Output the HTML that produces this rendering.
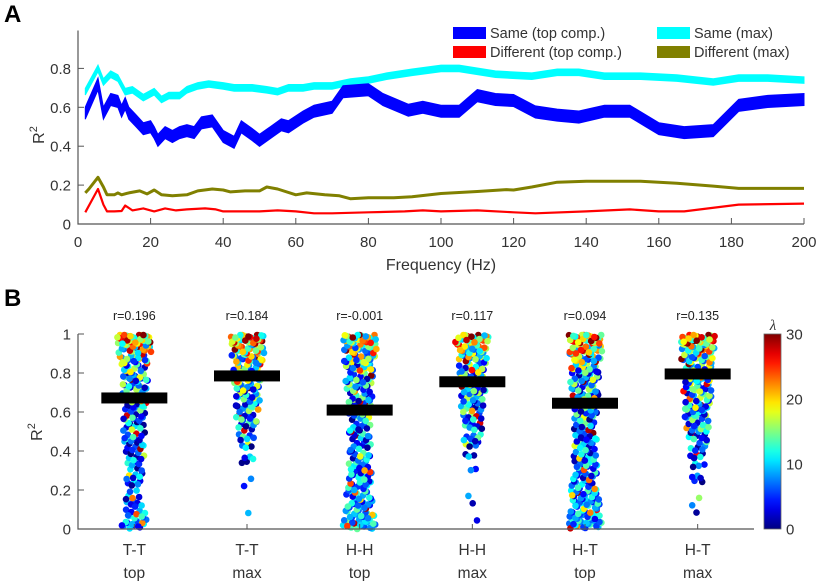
<!DOCTYPE html>
<html><head><meta charset="utf-8"><style>
html,body{margin:0;padding:0;background:#fff}
svg{display:block;font-family:"Liberation Sans","DejaVu Sans",sans-serif}
</style></head><body>
<svg id="fig" width="820" height="581" viewBox="0 0 820 581">
<text x="4" y="22" font-size="24" font-weight="bold" fill="#000">A</text>
<text x="4" y="306" font-size="24" font-weight="bold" fill="#000">B</text>
<g id="pa"></g>
<g id="pb"></g>
</svg>
<script>
// ---------- Panel A data ----------
const xTicksA = [0,20,40,60,80,100,120,140,160,180,200];
const yTicksA = [0,0.2,0.4,0.6,0.8];
const blueF = [2,5.5,7,9,11,12,13,14,16,18,20,21,22,24,26,28,30,32,34,37,40,43,45,48,50,53,56,58,62,65,70,73,80,84,91,95,100,105,110,115,120,126,132,138,145,152,160,167,175,182,190,200];
const blueV = [0.57,0.72,0.57,0.64,0.63,0.58,0.62,0.57,0.53,0.49,0.50,0.47,0.43,0.47,0.45,0.47,0.48,0.47,0.52,0.53,0.45,0.42,0.50,0.46,0.43,0.47,0.51,0.50,0.55,0.58,0.60,0.68,0.69,0.64,0.585,0.60,0.58,0.58,0.66,0.64,0.635,0.576,0.56,0.55,0.58,0.58,0.49,0.47,0.48,0.61,0.63,0.64];
const cyanF = [2,5.5,7,9,11,13,15,18,21,23,25,28,30,33,36,40,43,48,52,55,58,62,65,70,75,80,85,92,100,105,115,125,132,138,145,155,165,175,182,190,200];
const cyanV = [0.68,0.80,0.73,0.77,0.75,0.68,0.69,0.65,0.68,0.64,0.66,0.66,0.69,0.71,0.72,0.71,0.70,0.70,0.69,0.68,0.70,0.70,0.71,0.71,0.73,0.74,0.76,0.78,0.80,0.80,0.77,0.76,0.78,0.78,0.76,0.76,0.75,0.73,0.75,0.75,0.74];
const oliveF = [2,3,5.5,7,8,10,11,12,14,17,19,21,23,26,30,33,37,40,42,46,50,52,55,60,63,68,72,75,80,87,92,100,110,118,120,125,132,140,155,165,175,182,200];
const oliveV = [0.16,0.18,0.24,0.19,0.15,0.15,0.16,0.15,0.16,0.17,0.155,0.175,0.15,0.145,0.15,0.17,0.18,0.175,0.165,0.17,0.17,0.19,0.18,0.15,0.16,0.15,0.145,0.13,0.135,0.135,0.14,0.157,0.167,0.177,0.175,0.19,0.215,0.22,0.22,0.21,0.195,0.183,0.183];
const redF = [2,5.5,7,8,10,12,13,15,18,21,24,27,30,35,38,40,45,50,55,60,65,70,80,90,95,100,110,120,126,140,152,160,167,182,200];
const redV = [0.06,0.18,0.10,0.065,0.065,0.067,0.095,0.07,0.08,0.065,0.08,0.07,0.075,0.08,0.075,0.065,0.065,0.065,0.07,0.065,0.055,0.055,0.06,0.065,0.07,0.065,0.07,0.06,0.055,0.065,0.075,0.065,0.065,0.10,0.105];

// ---------- Panel B data ----------
const groupTop = ["T-T","T-T","H-H","H-H","H-T","H-T"];
const groupBot = ["top","max","top","max","top","max"];
const rVals = ["r=0.196","r=0.184","r=-0.001","r=0.117","r=0.094","r=0.135"];
const means = [0.672,0.785,0.61,0.755,0.645,0.795];
const yTicksB = [0,0.2,0.4,0.6,0.8,1];
const cbTicks = [0,10,20,30];
// point counts per R² bin (0-0.05 ... 0.95-1.0)
const cntTTtop = [14,10,6,6,5,6,7,8,9,10,10,11,12,12,13,14,14,16,20,30];
const cntTTmax = [0,1,0,0,1,1,2,3,4,6,8,10,12,13,14,15,16,18,22,30];
const cntHHtop = [20,16,14,14,12,12,10,10,10,10,10,10,12,13,14,15,16,18,20,28];
const cntHHmax = [1,0,1,1,0,0,2,3,5,7,8,9,11,12,13,14,14,16,18,24];
const cntHTtop = [22,18,16,16,14,13,12,11,11,11,11,12,13,14,15,16,16,18,22,30];
const cntHTmax = [0,1,1,1,2,3,4,5,7,9,11,13,14,15,16,16,17,19,22,30];
// typical λ per bin
const lamTTtop = [7,8,7,6,5,6,6,6,6,6,6,7,7,8,8,9,10,12,16,20];
const lamTTmax = [4,4,5,5,5,5,5,6,6,7,7,8,8,9,9,10,11,13,16,19];
const lamHHtop = [10,9,8,8,8,8,8,7,7,7,7,7,8,8,8,9,10,12,14,17];
const lamHHmax = [3,3,3,3,3,4,5,6,6,7,7,8,8,8,9,9,10,12,15,18];
const lamHTtop = [9,8,8,8,7,7,7,7,7,7,7,7,8,8,8,9,10,13,16,20];
const lamHTmax = [3,3,3,3,4,4,5,6,7,7,8,8,9,9,10,10,11,13,16,20];
const counts = [cntTTtop,cntTTmax,cntHHtop,cntHHmax,cntHTtop,cntHTmax];
const lams = [lamTTtop,lamTTmax,lamHHtop,lamHHmax,lamHTtop,lamHTmax];

const NS="http://www.w3.org/2000/svg";
function mk(tag,attrs,parent){const e=document.createElementNS(NS,tag);for(const k in attrs)e.setAttribute(k,attrs[k]);parent.appendChild(e);return e;}
const AX="#555", TX="#333";

// ---------- Panel A ----------
const pa=document.getElementById('pa');
const ax0=78, ax1=804, ay0=224, ay1=29.5;
const xA=f=>ax0+f/200*(ax1-ax0);
const yA=v=>ay0+v*(ay1-ay0);
function band(F,V,w,color,name){
  let up=F.map((f,i)=>xA(f).toFixed(1)+","+yA(V[i]+w/2).toFixed(1));
  let dn=F.map((f,i)=>xA(f).toFixed(1)+","+yA(V[i]-w/2).toFixed(1)).reverse();
  const p=mk('polygon',{points:up.concat(dn).join(" "),fill:color,stroke:color,'stroke-width':1},pa);
  
  
}
function line(F,V,w,color,name){
  const p=mk('polyline',{points:F.map((f,i)=>xA(f).toFixed(1)+","+yA(V[i]).toFixed(1)).join(" "),fill:"none",stroke:color,'stroke-width':w,'stroke-linejoin':'round'},pa);
  
  
}
band(cyanF,cyanV,0.034,"#00ffff","same-max-band");
band(blueF,blueV,0.062,"#0000ff","same-top-band");
line(oliveF,oliveV,3,"#808000","different-max-line");
line(redF,redV,2.2,"#ff0000","different-top-line");
let e=mk('path',{d:`M${ax0},${ay1+1}V${ay0}H${ax1}`,stroke:AX,'stroke-width':1.2,fill:'none'},pa);

yTicksA.forEach(v=>{
  mk('line',{x1:ax0,x2:ax0+6,y1:yA(v),y2:yA(v),stroke:AX},pa);
  const t=mk('text',{x:ax0-7,y:yA(v)+5.5,'text-anchor':'end','font-size':15,fill:TX},pa);
  t.textContent=v===0?"0":v.toFixed(1);
  
});
xTicksA.forEach(v=>{
  mk('line',{x1:xA(v),x2:xA(v),y1:ay0,y2:ay0-6,stroke:AX},pa);
  const t=mk('text',{x:xA(v),y:247,'text-anchor':'middle','font-size':15,fill:TX},pa);
  t.textContent=v;
  
});
e=mk('text',{x:441,y:270,'text-anchor':'middle','font-size':16,fill:TX},pa);e.textContent="Frequency (Hz)";

e=mk('text',{transform:'translate(44,135) rotate(-90)','text-anchor':'middle','font-size':16,fill:TX},pa);
e.innerHTML='R<tspan dy="-7" font-size="11">2</tspan>';

const leg=[["#0000ff","Same (top comp.)",453,27],["#00ffff","Same (max)",657,27],["#ff0000","Different (top comp.)",453,46],["#808000","Different (max)",657,46]];
leg.forEach(l=>{
  const g=mk('g',{},pa);
  
  mk('rect',{x:l[2],y:l[3],width:33,height:12,fill:l[0]},g);
  const t=mk('text',{x:l[2]+37,y:l[3]+11,'font-size':14.5,fill:TX},g);t.textContent=l[1];
});

// ---------- Panel B ----------
const pb=document.getElementById('pb');
const bx0=78, bx1=754, by0=529, by1=334;
const xCat=i=>bx0+(i+0.5)*(bx1-bx0)/6;
const yB=v=>by0+v*(by1-by0);
function jet(t){t=Math.max(0,Math.min(1,t));
  const r=Math.max(0,Math.min(1,1.5-Math.abs(4*t-3))),g=Math.max(0,Math.min(1,1.5-Math.abs(4*t-2))),b=Math.max(0,Math.min(1,1.5-Math.abs(4*t-1)));
  return `rgb(${Math.round(r*255)},${Math.round(g*255)},${Math.round(b*255)})`;}
const lamOff=[-5,4,-3,6,-4,1,-6,5,0,-2,7,-1,3,-5];
let k=0;
counts.forEach((cnt,gi)=>{
  const g=mk('g',{},pb);
  
  
  cnt.forEach((n,bi)=>{
    const spread=Math.min(17,5+n*0.6);
    for(let j=0;j<n;j++){
      k++;
      const fx=((k*0.6180339)%1)-0.5, fy=(k*0.7548776+j*0.13)%1;
      const v=Math.min(0.995,(bi+fy)*0.05);
      let lam=lams[gi][bi]+lamOff[k%lamOff.length]*(0.7+bi/25);
      if(k%11===0) lam+=16;
      const c=mk('circle',{cx:(xCat(gi)+fx*2*spread).toFixed(1),cy:yB(v).toFixed(1),r:3.3,fill:jet(lam/30)},g);
      
      
    }
  });
});
means.forEach((m,i)=>{
  const r=mk('rect',{x:xCat(i)-33,y:yB(m)-5.5,width:66,height:11,fill:'#000'},pb);
  
  const t=mk('text',{x:xCat(i),y:320,'text-anchor':'middle','font-size':12.5,fill:'#222'},pb);
  t.textContent=rVals[i];
  
  mk('line',{x1:xCat(i),x2:xCat(i),y1:by0,y2:by0-5,stroke:AX},pb);
  const a=mk('text',{x:xCat(i),y:555,'text-anchor':'middle','font-size':15.5,fill:TX},pb);a.textContent=groupTop[i];
  
  const b=mk('text',{x:xCat(i),y:578,'text-anchor':'middle','font-size':15.5,fill:TX},pb);b.textContent=groupBot[i];
  
});
e=mk('path',{d:`M${bx0},${by1}V${by0}H${bx1}`,stroke:AX,'stroke-width':1.2,fill:'none'},pb);

yTicksB.forEach(v=>{
  mk('line',{x1:bx0,x2:bx0+6,y1:yB(v),y2:yB(v),stroke:AX},pb);
  const t=mk('text',{x:ax0-7,y:yB(v)+5.5,'text-anchor':'end','font-size':15,fill:TX},pb);
  t.textContent=(v===0||v===1)?String(v):v.toFixed(1);
  
});
e=mk('text',{transform:'translate(42,432) rotate(-90)','text-anchor':'middle','font-size':16,fill:TX},pb);
e.innerHTML='R<tspan dy="-7" font-size="11">2</tspan>';

const defs=mk('defs',{},pb);
const lg=mk('linearGradient',{id:'jetg',x1:0,y1:1,x2:0,y2:0},defs);
for(let i=0;i<=20;i++)mk('stop',{offset:i/20,'stop-color':jet(i/20)},lg);
const cb=mk('rect',{x:764,y:by1,width:17,height:by0-by1,fill:'url(#jetg)',stroke:'#666','stroke-width':0.8},pb);

cbTicks.forEach(v=>{
  const y=by0+v/30*(by1-by0);
  const t=mk('text',{x:786,y:y+5.5,'font-size':15,fill:TX},pb);t.textContent=v;
  
});
e=mk('text',{x:773,y:330,'text-anchor':'middle','font-size':15,'font-family':'Liberation Serif, serif','font-style':'italic',fill:TX},pb);
e.textContent="λ";
</script>
</body></html>
